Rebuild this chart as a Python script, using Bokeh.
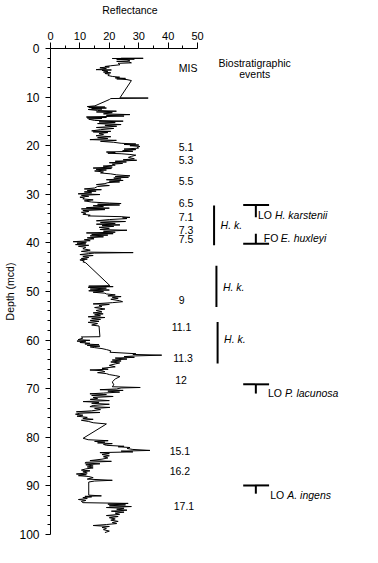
from bokeh.plotting import figure
from bokeh.models import Range1d, FixedTicker, Title, LinearAxis
from bokeh.core.properties import value
from bokeh.embed import file_html
from bokeh.resources import INLINE

# ---- reflectance record (depth in mcd, reflectance in %) ----
depth = [2.00, 2.02, 2.06, 2.10, 2.14, 2.18, 2.24, 2.30, 2.55, 2.65, 2.75, 2.95, 3.05, 3.35, 3.55, 3.70, 3.80, 3.95, 4.15, 4.35,
         4.42, 4.50, 4.70, 4.85, 5.00, 5.15, 5.30, 5.55, 5.75, 5.90, 6.05, 6.15, 6.25, 6.40, 6.60, 10.15, 10.20, 10.30, 10.50, 11.80,
         11.95, 12.05, 12.15, 12.25, 12.35, 12.45, 12.55, 12.75, 12.90, 13.05, 13.20, 13.45, 13.60, 13.75, 13.90, 14.10, 14.20, 14.30, 14.40, 14.55,
         14.80, 14.95, 15.10, 15.25, 15.45, 15.65, 15.80, 16.00, 16.25, 16.45, 16.70, 16.95, 17.05, 17.15, 17.30, 17.50, 17.70, 17.95, 18.15, 18.35,
         18.55, 18.75, 18.90, 19.10, 19.30, 19.50, 19.65, 19.75, 19.85, 20.00, 20.15, 20.35,
         20.50, 20.70, 20.80, 21.05, 21.15, 21.30, 21.40, 21.55, 21.65, 21.80, 21.95, 22.20, 22.40, 22.70, 22.90, 23.00, 23.20, 23.35, 23.50, 23.65,
         23.80, 24.00, 24.20, 24.40, 24.60, 24.70, 24.85, 25.00, 25.20, 25.40, 25.60, 25.80, 26.00, 26.20, 26.35, 26.50, 26.65, 26.85, 27.00, 27.15,
         27.30, 27.45, 27.60, 27.80, 28.00, 28.20, 28.40, 28.70, 28.90, 29.05, 29.20, 29.35, 29.50, 29.70, 29.90, 30.05, 30.20, 30.40, 30.60, 30.75,
         30.95, 31.15, 31.35, 31.60, 31.80, 31.90, 32.05, 32.20, 32.35, 32.55, 32.75, 32.85, 33.00, 33.15, 33.35, 33.55, 33.70, 33.90, 34.10, 34.30,
         34.45, 34.60, 34.75, 34.85, 35.00, 35.20, 35.45, 35.60, 35.80, 36.00, 36.15, 36.30, 36.45, 36.60, 36.80, 37.00, 37.25, 37.40, 37.60, 37.80,
         37.95, 38.10, 38.25, 38.40, 38.55, 38.75, 38.95, 39.15, 39.35, 39.55, 39.75, 39.85, 40.05, 40.20, 40.35,
         40.50, 40.70, 40.90, 41.20, 41.50, 41.75, 41.90, 42.00, 42.10, 42.20, 42.40, 42.60, 42.80, 43.00, 43.20, 43.35, 43.50, 43.70, 43.90, 44.10,
         48.80, 48.90, 49.00, 49.15, 49.30, 49.50, 49.70, 49.85, 50.00, 50.15, 50.35, 50.50, 50.70, 50.90, 51.05, 51.20, 51.40, 51.60, 51.90, 52.10,
         52.30, 52.55, 52.65, 52.90, 53.10, 53.30, 53.60, 53.90, 54.20, 54.40, 54.60, 54.80, 55.00, 55.20, 55.35, 55.55, 55.75, 55.95, 56.15, 56.35,
         56.60, 56.90, 57.10, 59.30, 59.35, 59.60, 59.90,
         60.05, 60.20, 60.35, 60.50, 60.65, 60.80, 60.95, 61.10, 61.25, 61.40, 61.55, 61.75, 61.95, 62.20, 62.50, 62.80, 62.95, 63.10, 63.25, 63.40,
         63.55, 63.70, 63.90, 64.10, 64.30, 64.50, 64.70, 64.90, 65.20, 65.50, 65.80, 66.00, 66.15, 66.30, 66.50, 66.70, 66.90, 67.10, 67.30, 67.50,
         68.00, 68.60, 69.20, 69.60, 69.75, 69.85, 70.05, 70.20, 70.35, 70.50, 70.70, 70.90, 71.05, 71.20, 71.40, 71.60, 71.80, 72.00, 72.20, 72.45,
         72.65, 72.80, 73.00, 73.20, 73.45, 73.70, 73.85, 74.05, 74.30, 74.55, 74.75, 74.90, 75.05, 75.25, 75.45, 75.65, 75.90, 76.10, 76.30, 76.50,
         76.75, 77.00, 77.25, 77.45, 80.20,
         80.50, 80.70, 80.85, 81.00, 81.15, 81.30, 81.45, 81.65, 81.85, 81.95, 82.10, 82.30, 82.50, 82.70, 82.85, 83.00, 83.15, 83.35, 83.55, 83.80,
         84.00, 84.25, 84.50, 84.80, 84.95, 85.15, 85.30, 85.45, 85.65, 85.90, 86.10, 86.30, 86.50, 86.75, 86.90, 87.10, 87.35, 87.55, 87.70, 87.90,
         88.05, 88.30, 88.60, 88.85, 89.00, 89.20, 91.90, 92.05, 92.15, 92.25, 92.40, 92.60, 92.80, 93.00, 93.20, 93.45, 93.60, 93.75, 93.90, 94.10,
         94.25, 94.45, 94.60, 94.80, 95.00, 95.20, 95.40, 95.60, 95.85, 96.10, 96.30, 96.55, 96.80, 97.05, 97.30, 97.55, 97.75, 97.95, 98.15, 98.35,
         98.55, 98.75, 99.00, 99.30, 99.60]
refl = [24.0, 31.5, 21.0, 27.0, 24.5, 28.5, 22.5, 26.0, 27.0, 22.5, 26.5, 27.5, 23.0, 23.6, 20.5, 18.5, 20.0, 16.8, 19.0, 15.5,
        20.7, 17.5, 19.5, 18.0, 20.5, 18.5, 20.0, 19.5, 21.0, 23.5, 22.0, 25.5, 22.5, 26.0, 27.5, 23.6, 33.2, 20.5, 20.0, 15.1,
        12.5, 18.5, 13.0, 19.0, 14.0, 17.5, 12.8, 16.0, 22.4, 15.6, 21.0, 18.0, 27.0, 19.0, 25.0, 12.2, 19.0, 12.5, 17.5, 13.0,
        15.0, 24.7, 16.5, 22.0, 16.0, 24.0, 18.5, 22.5, 15.6, 21.5, 17.0, 14.0, 20.5, 14.5, 19.5, 16.5, 18.0, 15.5, 20.5, 16.0,
        19.5, 13.4, 22.4, 17.0, 21.5, 24.0, 29.0, 25.0, 30.0, 27.0, 30.4, 29.5,
        29.9, 25.0, 29.0, 24.5, 28.0, 19.0, 22.0, 19.5, 24.0, 27.0, 29.0, 27.5, 26.5, 28.5, 24.7, 29.3, 22.0, 25.8, 20.0, 24.5,
        21.0, 22.0, 17.9, 21.0, 14.5, 20.7, 15.5, 19.0, 15.0, 18.0, 17.0, 20.5, 22.5, 27.0, 22.0, 26.5, 21.5, 24.0, 19.0, 24.7,
        20.0, 23.5, 19.5, 18.5, 15.6, 20.0, 16.0, 15.0, 11.5, 17.3, 12.5, 15.5, 11.5, 14.0, 9.4, 16.8, 10.5, 13.0, 10.0, 11.5,
        11.0, 14.5, 11.5, 14.0, 20.0, 24.0, 16.0, 23.5, 14.5, 18.0, 12.2, 20.0, 10.5, 18.5, 11.0, 13.0, 10.5, 12.0, 11.0, 13.5,
        12.8, 24.0, 27.0, 24.5, 26.0, 20.0, 15.6, 25.5, 17.0, 22.0, 15.6, 23.6, 17.5, 21.5, 16.5, 20.0, 16.8, 26.0, 18.0, 22.0,
        12.2, 21.3, 14.0, 19.5, 13.5, 18.0, 12.5, 14.8, 11.5, 13.5, 7.7, 12.2, 9.0, 12.0, 8.5,
        13.0, 9.5, 12.0, 11.0, 13.5, 10.5, 13.0, 28.1, 15.0, 13.0, 10.0, 14.5, 11.0, 13.0, 10.5, 12.5, 10.0, 11.5, 11.0, 12.0,
        20.2, 13.0, 21.3, 12.8, 19.0, 13.5, 20.0, 13.0, 18.0, 14.5, 18.5, 19.0, 22.0, 19.5, 24.0, 21.0, 23.0, 20.5, 23.5, 24.5,
        21.0, 14.5, 20.0, 16.5, 17.5, 15.0, 18.5, 15.5, 17.5, 14.5, 17.9, 15.0, 17.0, 12.8, 18.5, 14.0, 17.0, 13.5, 16.5, 12.8,
        16.0, 14.0, 16.5, 16.8, 10.5, 11.0, 9.4,
        13.4, 9.0, 12.0, 10.0, 13.4, 11.7, 16.5, 12.5, 16.8, 13.5, 15.0, 17.5, 19.0, 20.5, 20.2, 29.0, 28.0, 37.8, 29.0, 25.0,
        28.5, 22.0, 26.0, 21.0, 24.0, 20.5, 23.5, 22.0, 20.0, 22.0, 17.5, 19.6, 13.4, 17.5, 18.5, 16.0, 19.0, 20.0, 22.0, 23.6,
        22.0, 21.0, 21.5, 21.0, 30.5, 24.0, 22.5, 16.8, 24.7, 19.5, 23.5, 18.0, 13.4, 19.0, 14.0, 21.3, 14.5, 16.0, 13.5, 20.0,
        11.1, 16.5, 14.0, 20.0, 14.5, 13.4, 20.2, 15.0, 17.0, 14.0, 8.8, 16.8, 10.0, 8.5, 11.0, 9.0, 12.5, 11.0, 14.5, 10.5,
        13.0, 14.5, 19.0, 18.5, 11.1,
        12.8, 19.6, 15.0, 18.5, 16.0, 21.0, 18.0, 19.0, 25.0, 23.0, 27.0, 26.0, 28.0, 33.8, 24.0, 28.0, 16.8, 20.0, 17.5, 20.0,
        18.0, 19.5, 17.5, 13.4, 20.7, 12.0, 11.7, 16.8, 12.0, 14.5, 12.5, 14.5, 12.0, 10.5, 13.4, 11.0, 12.5, 8.8, 12.2, 9.5,
        12.8, 14.5, 12.5, 21.0, 15.0, 13.0, 13.0, 17.3, 11.7, 14.0, 11.0, 12.5, 9.5, 12.0, 10.5, 11.0, 26.4, 19.5, 25.5, 20.0,
        27.5, 19.0, 25.0, 22.5, 26.0, 20.7, 25.0, 22.0, 23.5, 19.0, 23.0, 20.0, 22.0, 20.5, 23.0, 21.0, 22.5, 19.0, 14.5, 20.0,
        17.5, 19.0, 18.0, 20.0, 18.5]

# ---- axis ticks ----
x_major = [0, 10, 20, 30, 40, 50]
x_minor = [5, 15, 25, 35, 45]
y_major = [0, 10, 20, 30, 40, 50, 60, 70, 80, 90, 100]
y_minor = [d for d in range(2, 100, 2) if d % 10 != 0]
x_title = "Reflectance"
y_title = "Depth (mcd)"

# ---- marine isotope stages ----
mis_labels = ["5.1", "5.3", "5.5", "6.5", "7.1", "7.3", "7.5", "9", "11.1", "11.3", "12", "15.1", "16.2", "17.1"]
mis_depths = [20.2, 22.9, 27.3, 31.8, 34.7, 37.3, 39.2, 51.7, 57.3, 63.6, 68.2, 82.9, 87.0, 94.2]
mis_xpos = [43.6, 43.6, 43.6, 43.6, 43.6, 43.6, 43.6, 43.6, 41.2, 41.7, 42.4, 40.5, 40.5, 41.9]

# ---- biostratigraphic datums ----
lo_prefix = ["LO", "FO", "LO", "LO"]
lo_species = ["H. karstenii", "E. huxleyi", "P. lacunosa", "A. ingens"]
lo_depth = [32.2, 40.2, 69.1, 89.9]           # depth of datum bar
lo_tip = [34.7, 38.1, 71.0, 91.6]             # stem end
lo_text_depth = [34.2, 39.0, 70.9, 91.8]
lo_text_x = [70.5, 72.5, 73.9, 74.7]

hk_top = [32.3, 44.7, 56.3]
hk_bot = [40.5, 53.2, 64.8]
hk_x = [55.6, 56.4, 56.8]
hk_text_depth = [36.4, 49.0, 59.7]

FONT = "Liberation Sans"

p = figure(width=378, height=560, output_backend="svg", toolbar_location=None, title=None,
           x_range=Range1d(0, 111.49), y_range=Range1d(100, 0),
           x_axis_location="above",
           min_border_left=48, min_border_top=48, min_border_right=0, min_border_bottom=26)
p.grid.visible = False
p.outline_line_color = None
p.background_fill_color = "white"
p.border_fill_color = "white"

xa = p.xaxis[0]
xa.bounds = (0, 50)
xa.ticker = FixedTicker(ticks=x_major, minor_ticks=x_minor)
xa.major_label_text_font = FONT
xa.major_label_text_font_size = "11px"
xa.major_label_standoff = 3
xa.major_tick_out = 6
xa.major_tick_in = 0
xa.minor_tick_out = 3
xa.minor_tick_in = 0
xa.axis_line_color = "black"
xa.major_tick_line_color = "black"
xa.minor_tick_line_color = "black"
xa.major_label_text_color = "black"

# outer top "axis" carrying only the title text, centred over the 0-50 scale
xt = LinearAxis(ticker=FixedTicker(ticks=[27], minor_ticks=[]),
                major_label_overrides={27: x_title},
                axis_line_color=None, major_tick_line_color=None, minor_tick_line_color=None,
                major_tick_out=0, major_tick_in=0, minor_tick_out=0, minor_tick_in=0,
                major_label_standoff=13, major_label_text_font=FONT,
                major_label_text_font_size="10.5px", major_label_text_color="black")
p.add_layout(xt, "above")

ya = p.yaxis[0]
ya.bounds = (0, 100)
ya.ticker = FixedTicker(ticks=y_major, minor_ticks=y_minor)
ya.major_label_text_font = FONT
ya.major_label_text_font_size = "12px"
ya.major_label_standoff = 6
ya.major_tick_out = 5
ya.major_tick_in = 0
ya.minor_tick_out = 3
ya.minor_tick_in = 0
ya.axis_line_color = "black"
ya.major_tick_line_color = "black"
ya.minor_tick_line_color = "black"
ya.major_label_text_color = "black"

p.add_layout(Title(text=y_title, align="center", offset=-7, standoff=2, text_font=FONT,
                   text_font_size="10.5px", text_font_style="normal", text_color="black"), "left")

# reflectance curve
p.line(refl, depth, line_color="black", line_width=1)

# MIS column
p.text(x=[43.6], y=[4.0], text=["MIS"], text_font=value(FONT), text_font_size="10.5px",
       text_align="left", text_baseline="middle", text_color="black")
p.text(x=mis_xpos, y=mis_depths, text=mis_labels, text_font=value(FONT), text_font_size="10.5px",
       text_align="left", text_baseline="middle", text_color="black")

# Biostratigraphic header
p.text(x=[69.4, 69.4], y=[3.0, 5.2], text=["Biostratigraphic", "events"], text_font=value(FONT),
       text_font_size="10.5px", text_align="center", text_baseline="middle", text_color="black")

# datum bars (T shapes)
bar_x0 = [65.5] * len(lo_depth)
bar_x1 = [74.3] * len(lo_depth)
stem_x = [69.8] * len(lo_depth)
p.segment(x0=bar_x0, y0=lo_depth, x1=bar_x1, y1=lo_depth, line_color="black", line_width=2)
p.segment(x0=stem_x, y0=lo_depth, x1=stem_x, y1=lo_tip, line_color="black", line_width=2)
p.text(x=lo_text_x, y=lo_text_depth, text=lo_prefix, text_font=value(FONT), text_font_size="10.5px",
       text_align="left", text_baseline="middle", text_color="black")
p.text(x=lo_text_x, y=lo_text_depth, text=lo_species, text_font=value(FONT), text_font_size="10.5px",
       text_font_style="italic", x_offset=17, text_align="left", text_baseline="middle", text_color="black")

# H. k. range bars
p.segment(x0=hk_x, y0=hk_top, x1=hk_x, y1=hk_bot, line_color="black", line_width=2)
p.text(x=[v + 2.2 for v in hk_x], y=hk_text_depth, text=["H. k."] * 3, text_font=value(FONT),
       text_font_size="10.5px", text_font_style="italic", text_align="left", text_baseline="middle",
       text_color="black")

open("out.html", "w").write(file_html(p, INLINE))
